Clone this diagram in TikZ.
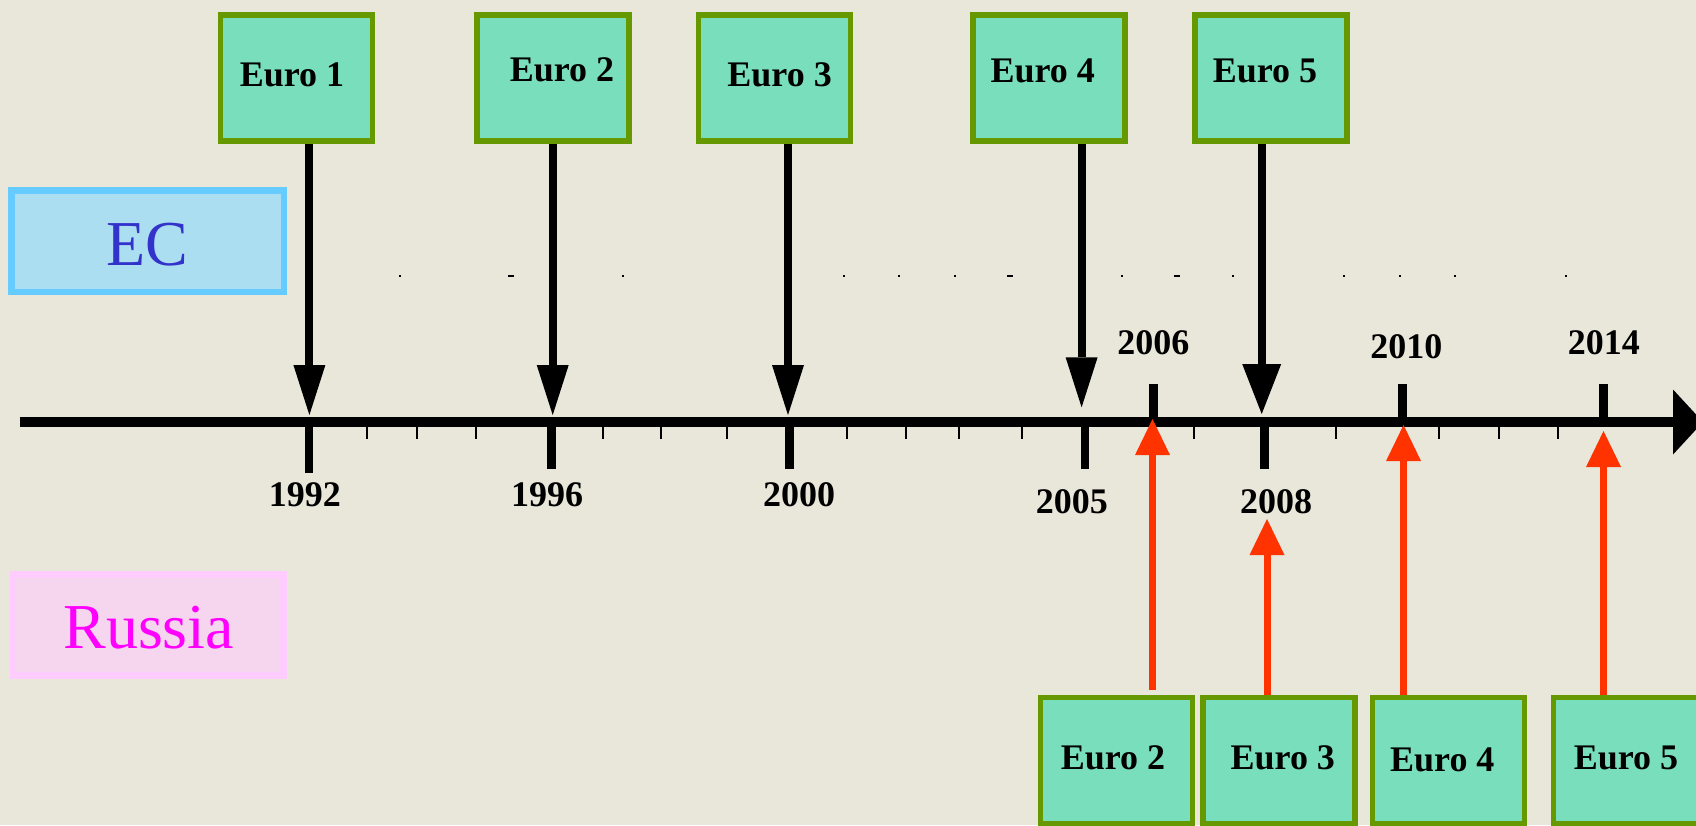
\documentclass[tikz,border=0pt]{standalone}
\usepackage{fontspec}
\setmainfont{Liberation Serif}
\usetikzlibrary{arrows.meta}
\definecolor{bgc}{RGB}{232,231,218}
\definecolor{boxgreen}{RGB}{102,153,0}
\definecolor{turq}{RGB}{120,222,188}
\definecolor{ecfill}{RGB}{170,222,240}
\definecolor{ecborder}{RGB}{102,204,255}
\definecolor{ecblue}{RGB}{51,51,204}
\definecolor{rufill}{RGB}{245,214,238}
\definecolor{ruborder}{RGB}{255,204,255}
\definecolor{rumag}{RGB}{255,0,255}
\definecolor{redarrow}{RGB}{255,51,0}
\begin{document}
\begin{tikzpicture}[x=0.5pt,y=-0.5pt,
  eurobox/.style={draw=boxgreen, line width=2.75pt, fill=turq, minimum width=76pt, minimum height=63pt, inner sep=0pt},
  boldtext/.style={font=\fontsize{18}{20}\selectfont\bfseries, anchor=base, inner sep=0pt},
  bigtext/.style={font=\fontsize{32}{36}\selectfont, anchor=base, inner sep=0pt},
  blackarrow/.style={draw=black, line width=4pt, -{Triangle[width=16pt,length=25pt,line width=0pt]}},
  blackarrowbig/.style={draw=black, line width=4pt, -{Triangle[width=19.5pt,length=25pt,line width=0pt]}},
  redarr/.style={draw=redarrow, line width=3.5pt, -{Triangle[width=17.5pt,length=18pt,line width=0pt]}},
  axisline/.style={draw=black, line width=5pt, -{Triangle[width=32.5pt,length=15pt,line width=0pt]}},
  majortick/.style={draw=black, line width=4.15pt},
  minortick/.style={draw=black, line width=1pt},
  speck/.style={fill=black}
]
\useasboundingbox (0,0) rectangle (1696,825);
\clip (0,0) rectangle (1696,825);
\fill[bgc] (0,0) rectangle (1696,825);

% faint specks
\foreach \sx in {399.7,622.5,843.7,899.4,954.5,1121.7,1232.5,1344,1399.7,1454.8,1565.7}
  \fill[speck] (\sx-1,275.3) rectangle (\sx+1,276.7);
\foreach \sx in {511,1010.2,1176.8}
  \fill[speck] (\sx-3,275.3) rectangle (\sx+3,276.7);

% category boxes
\node[draw=ecborder, line width=3.25pt, fill=ecfill, minimum width=136.25pt, minimum height=50.6pt, inner sep=0pt] (ecbox) at (147.8,241.2) {};
\node[bigtext, text=ecblue] (ectext) at (147.5,265) {EC};
\node[draw=ruborder, line width=3.15pt, fill=rufill, minimum width=135.25pt, minimum height=50.5pt, inner sep=0pt] (rubox) at (148.2,625) {};
\node[bigtext, text=rumag] (rutext) at (148.7,648.7) {Russia};

% top (EC) boxes
\node[eurobox] (e1) at (296.4,78.15) {};
\node[eurobox] (e2) at (553,78.15) {};
\node[eurobox] (e3) at (774.5,78.15) {};
\node[eurobox] (e4) at (1048.9,78.15) {};
\node[eurobox] (e5) at (1271,78.15) {};
\node[boldtext] (te1) at (292,86) {Euro 1};
\node[boldtext] (te2) at (562,81.7) {Euro 2};
\node[boldtext] (te3) at (779.6,86) {Euro 3};
\node[boldtext] (te4) at (1042.7,82) {Euro 4};
\node[boldtext] (te5) at (1265,82) {Euro 5};

% bottom (Russia) boxes
\node[eurobox] (b2) at (1116.7,760.25) {};
\node[eurobox] (b3) at (1279,760.25) {};
\node[eurobox] (b4) at (1448.3,760.25) {};
\node[eurobox] (b5) at (1629.5,760.25) {};
\node[boldtext] (tb2) at (1113,769.3) {Euro 2};
\node[boldtext] (tb3) at (1282.8,769.3) {Euro 3};
\node[boldtext] (tb4) at (1442.3,771) {Euro 4};
\node[boldtext] (tb5) at (1626,769.3) {Euro 5};

% axis
\coordinate (ax0) at (19.5,422);
\coordinate (ax1) at (1703,422);
\draw[axisline] (ax0) -- (ax1);

% minor ticks
\foreach \tx in {367,416.7,476,603,661,727,847,906.4,958.9,1022.1,1194.1,1335.8,1439.3,1498.7,1557.7}
  \draw[minortick] (\tx,422) -- (\tx,439);
% major ticks below
\draw[majortick] (309,422) -- (309,473);
\draw[majortick] (551.6,422) -- (551.6,469.3);
\draw[majortick] (789.6,422) -- (789.6,469.3);
\draw[majortick] (1084.9,422) -- (1084.9,469.3);
\draw[majortick] (1264.4,422) -- (1264.4,469.3);
% major ticks above
\draw[majortick] (1153.6,384) -- (1153.6,422);
\draw[majortick] (1402.5,384) -- (1402.5,422);
\draw[majortick] (1603.5,384) -- (1603.5,422);

% year labels
\node[boldtext] (y1992) at (304.8,506.3) {1992};
\node[boldtext] (y1996) at (547,506.3) {1996};
\node[boldtext] (y2000) at (799,506.3) {2000};
\node[boldtext] (y2005) at (1071.9,513) {2005};
\node[boldtext] (y2008) at (1276,513) {2008};
\node[boldtext] (y2006) at (1153.3,354) {2006};
\node[boldtext] (y2010) at (1406.4,358.3) {2010};
\node[boldtext] (y2014) at (1603.8,354) {2014};

% EC arrows
\coordinate (a1) at (309.4,415);
\coordinate (a2) at (552.7,415);
\coordinate (a3) at (788,415);
\coordinate (a4) at (1081.6,407.3);
\coordinate (a5) at (1261.7,414);
\draw[blackarrow] (e1.south -| a1) -- (a1);
\draw[blackarrow] (e2.south -| a2) -- (a2);
\draw[blackarrow] (e3.south -| a3) -- (a3);
\draw[blackarrow] (e4.south -| a4) -- (a4);
\draw[blackarrowbig] (e5.south -| a5) -- (a5);

% Russia arrows
\coordinate (r2) at (1152.5,419);
\coordinate (r3) at (1267,519);
\coordinate (r4) at (1403.5,425);
\coordinate (r5) at (1603.5,431);
\coordinate (s2) at (1152.5,690);
\draw[redarr] (s2) -- (r2);
\draw[redarr] (b3.north -| r3) -- (r3);
\draw[redarr] (b4.north -| r4) -- (r4);
\draw[redarr] (b5.north -| r5) -- (r5);
\end{tikzpicture}
\end{document}
